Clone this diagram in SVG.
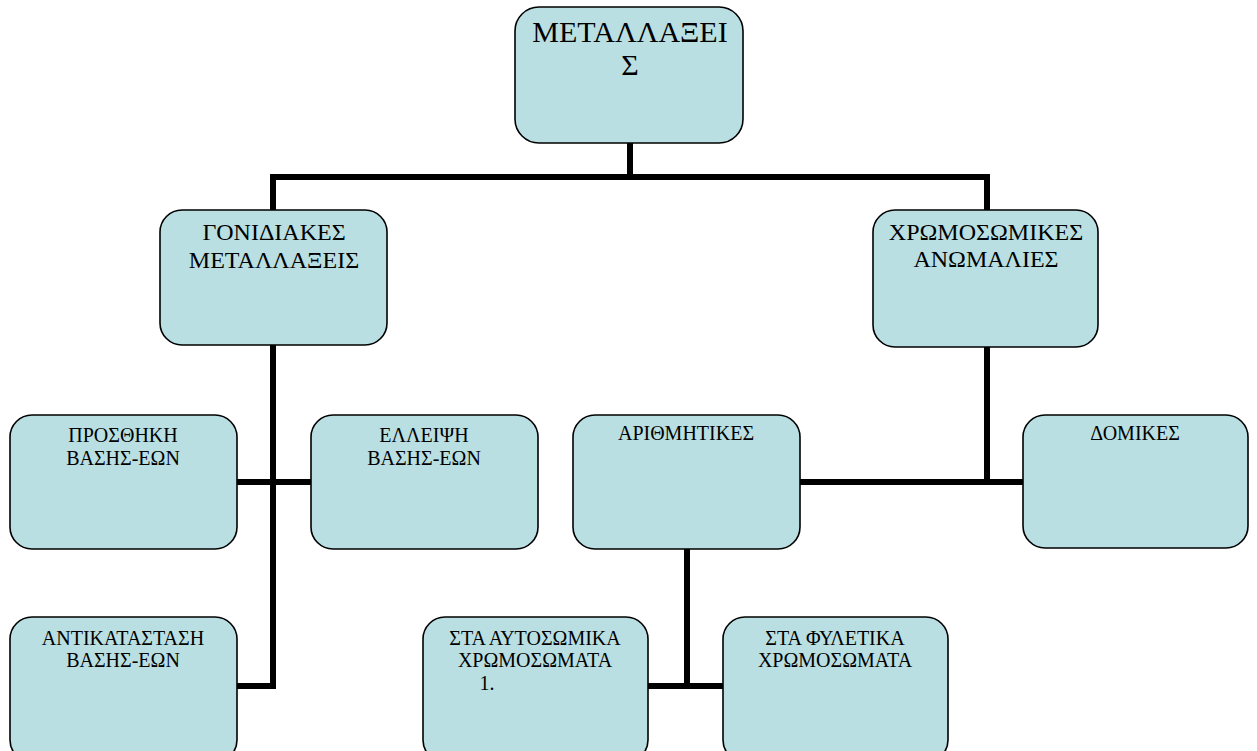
<svg xmlns="http://www.w3.org/2000/svg" width="1257" height="751" viewBox="0 0 1257 751">
<style>
.box{fill:#B9DFE3;stroke:#000;stroke-width:1.6}
.t{font-family:"Liberation Serif","Times New Roman",serif;fill:#000;text-anchor:middle}
.t30{font-size:30px}
.t24{font-size:24px}
.t20{font-size:20px}
.c{stroke:#000;stroke-width:6;fill:none;stroke-linecap:square}
</style>
<rect width="1257" height="751" fill="#fff"/>
<g id="connectors">
<path class="c" d="M630 143V177M273 177H987M273 177V210M987 177V210"/>
<path class="c" d="M273 345V686M237 482H311M237 686H273"/>
<path class="c" d="M987 347V482M800 482H1023"/>
<path class="c" d="M687 549V686M648 686H723"/>
</g>
<g id="n-root">
<rect class="box" x="515" y="7" width="228" height="136" rx="24"/>
<text class="t t30" x="630" y="42">ΜΕΤΑΛΛΑΞΕΙ</text>
<text class="t t30" x="630" y="75">Σ</text>
</g>
<g id="n-gonidiakes">
<rect class="box" x="160" y="210" width="227" height="135" rx="22"/>
<text class="t t24" x="274" y="240">ΓΟΝΙΔΙΑΚΕΣ</text>
<text class="t t24" x="274" y="268">ΜΕΤΑΛΛΑΞΕΙΣ</text>
</g>
<g id="n-xromosomikes">
<rect class="box" x="873" y="210" width="225" height="137" rx="22"/>
<text class="t t24" x="986" y="240">ΧΡΩΜΟΣΩΜΙΚΕΣ</text>
<text class="t t24" x="986" y="267">ΑΝΩΜΑΛΙΕΣ</text>
</g>
<g id="n-prosthiki">
<rect class="box" x="10" y="415" width="227" height="134" rx="22"/>
<text class="t t20" x="123" y="442">ΠΡΟΣΘΗΚΗ</text>
<text class="t t20" x="123" y="465">ΒΑΣΗΣ-ΕΩΝ</text>
</g>
<g id="n-elleipsi">
<rect class="box" x="311" y="415" width="227" height="134" rx="22"/>
<text class="t t20" x="424" y="442">ΕΛΛΕΙΨΗ</text>
<text class="t t20" x="424" y="465">ΒΑΣΗΣ-ΕΩΝ</text>
</g>
<g id="n-antikatastasi">
<rect class="box" x="10" y="617" width="227" height="145" rx="22"/>
<text class="t t20" x="123" y="645">ΑΝΤΙΚΑΤΑΣΤΑΣΗ</text>
<text class="t t20" x="123" y="667">ΒΑΣΗΣ-ΕΩΝ</text>
</g>
<g id="n-arithmitikes">
<rect class="box" x="573" y="415" width="227" height="134" rx="22"/>
<text class="t t20" x="686" y="440">ΑΡΙΘΜΗΤΙΚΕΣ</text>
</g>
<g id="n-domikes">
<rect class="box" x="1023" y="415" width="225" height="133" rx="22"/>
<text class="t t20" x="1135" y="440">ΔΟΜΙΚΕΣ</text>
</g>
<g id="n-autosomika">
<rect class="box" x="423" y="617" width="225" height="145" rx="22"/>
<text class="t t20" x="535" y="645">ΣΤΑ ΑΥΤΟΣΩΜΙΚΑ</text>
<text class="t t20" x="535" y="667">ΧΡΩΜΟΣΩΜΑΤΑ</text>
<text class="t t20" x="487" y="690">1.</text>
</g>
<g id="n-fyletika">
<rect class="box" x="723" y="617" width="225" height="145" rx="22"/>
<text class="t t20" x="835" y="645">ΣΤΑ ΦΥΛΕΤΙΚΑ</text>
<text class="t t20" x="835" y="667">ΧΡΩΜΟΣΩΜΑΤΑ</text>
</g>
</svg>
